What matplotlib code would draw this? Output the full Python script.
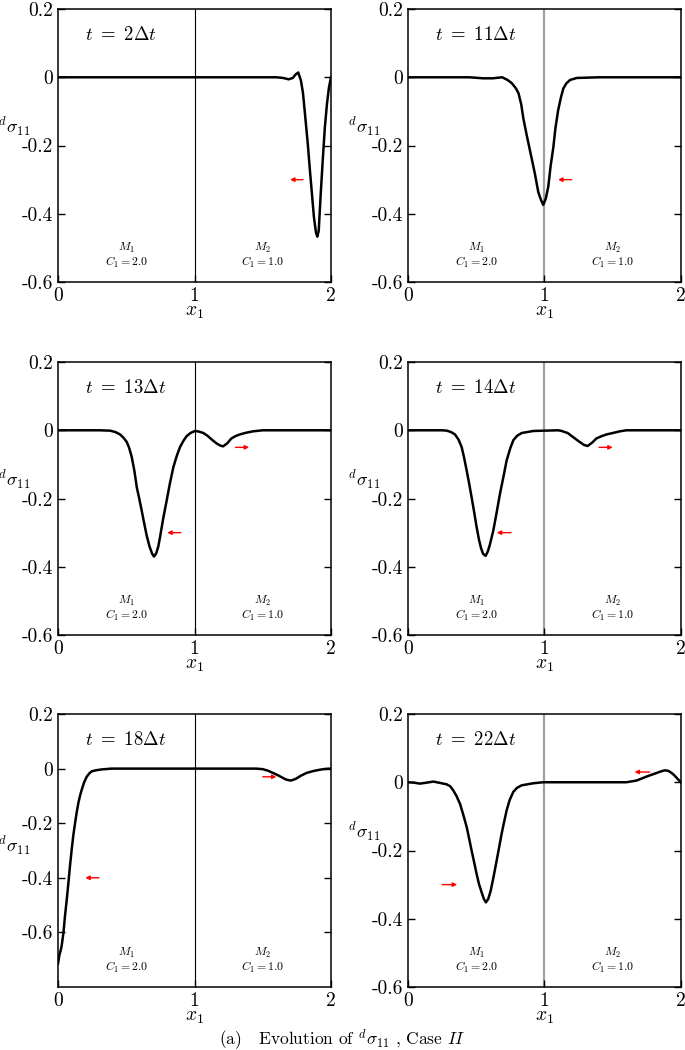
import matplotlib
matplotlib.use("Agg")
import matplotlib.pyplot as plt

plt.rcParams['mathtext.fontset'] = 'cm'
plt.rcParams['font.family'] = 'serif'
plt.rcParams['font.serif'] = ['cmr10', 'DejaVu Serif']
plt.rcParams['axes.unicode_minus'] = False

# ---- data ----
x_t2 = [0, 1.5, 1.6, 1.65, 1.69, 1.72, 1.74, 1.76, 1.78, 1.795, 1.81, 1.83, 1.845, 1.86, 1.875,
        1.89, 1.90, 1.91, 1.925, 1.94, 1.955, 1.97, 1.985, 2.0]
y_t2 = [0, 0, 0, -0.002, -0.006, -0.002, 0.008, 0.014, -0.01, -0.047, -0.11, -0.195, -0.27, -0.34, -0.41,
        -0.455, -0.467, -0.45, -0.34, -0.24, -0.147, -0.08, -0.03, 0.0]

x_t11 = [0, 0.3, 0.45, 0.55, 0.62, 0.69, 0.73, 0.76, 0.79, 0.81, 0.83, 0.845, 0.87, 0.894, 0.91,
         0.93, 0.955, 0.975, 0.991, 1.01, 1.028, 1.045, 1.065, 1.08, 1.10, 1.12, 1.138, 1.16, 1.187,
         1.236, 1.4, 2.0]
y_t11 = [0, 0, 0, -0.003, -0.003, 0, -0.008, -0.017, -0.032, -0.047, -0.08, -0.12, -0.17, -0.215, -0.245,
         -0.283, -0.337, -0.36, -0.374, -0.355, -0.32, -0.26, -0.205, -0.15, -0.097, -0.06, -0.033, -0.018, -0.008,
         -0.002, 0, 0]

x_t13 = [0, 0.3, 0.38, 0.42, 0.454, 0.48, 0.503, 0.52, 0.54, 0.56, 0.577, 0.595, 0.613, 0.63, 0.65,
         0.67, 0.69, 0.703, 0.72, 0.735, 0.747, 0.77, 0.796, 0.82, 0.845, 0.87, 0.894, 0.92, 0.943,
         0.97, 1.004, 1.035, 1.065, 1.095, 1.126, 1.16, 1.19, 1.21, 1.24, 1.27, 1.30, 1.333, 1.38,
         1.43, 1.5, 2.0]
y_t13 = [0, 0, -0.001, -0.005, -0.012, -0.022, -0.034, -0.05, -0.078, -0.12, -0.167, -0.20, -0.235, -0.27, -0.309,
         -0.34, -0.362, -0.37, -0.36, -0.34, -0.314, -0.26, -0.206, -0.155, -0.108, -0.075, -0.049, -0.03, -0.017,
         -0.008, -0.002, -0.004, -0.008, -0.016, -0.027, -0.038, -0.045, -0.047, -0.038, -0.024, -0.017, -0.012, -0.007,
         -0.003, 0, 0]

x_t14 = [0, 0.25, 0.283, 0.315, 0.344, 0.37, 0.393, 0.41, 0.43, 0.45, 0.466, 0.485, 0.503, 0.52, 0.535,
         0.55, 0.569, 0.585, 0.60, 0.625, 0.65, 0.674, 0.70, 0.723, 0.75, 0.772, 0.80, 0.833, 0.918, 1.1,
         1.126, 1.17, 1.21, 1.25, 1.29, 1.316, 1.35, 1.38, 1.42, 1.456, 1.50, 1.553, 1.6, 2.0]
y_t14 = [0, 0, -0.001, -0.005, -0.012, -0.027, -0.049, -0.078, -0.118, -0.16, -0.196, -0.24, -0.284, -0.32, -0.345,
         -0.362, -0.368, -0.355, -0.335, -0.294, -0.24, -0.186, -0.135, -0.088, -0.052, -0.029, -0.016, -0.008, -0.002, 0,
         -0.002, -0.008, -0.02, -0.032, -0.043, -0.046, -0.036, -0.024, -0.017, -0.012, -0.008, -0.003, 0, 0]

x_t18 = [0, 0.01, 0.02, 0.027, 0.04, 0.051, 0.064, 0.076, 0.088, 0.10, 0.112, 0.125, 0.137, 0.149, 0.162,
         0.174, 0.19, 0.21, 0.23, 0.247, 0.28, 0.32, 0.393, 1.45, 1.50, 1.54, 1.575, 1.61, 1.64, 1.67,
         1.705, 1.74, 1.78, 1.82, 1.87, 1.92, 1.96, 2.0]
y_t18 = [-0.714, -0.683, -0.665, -0.648, -0.6, -0.54, -0.48, -0.419, -0.355, -0.297, -0.245, -0.199, -0.16, -0.126, -0.098,
         -0.077, -0.052, -0.03, -0.017, -0.01, -0.006, -0.003, 0, 0, -0.002, -0.008, -0.016, -0.024, -0.032, -0.04,
         -0.044, -0.038, -0.026, -0.016, -0.009, -0.004, -0.001, 0]

x_t22 = [0, 0.04, 0.088, 0.14, 0.186, 0.235, 0.283, 0.31, 0.332, 0.355, 0.381, 0.405, 0.43, 0.448, 0.466,
         0.485, 0.503, 0.52, 0.54, 0.556, 0.571, 0.588, 0.606, 0.628, 0.65, 0.668, 0.686, 0.705, 0.723,
         0.745, 0.772, 0.80, 0.833, 0.918, 0.99, 1.6, 1.675, 1.75, 1.82, 1.855, 1.883, 1.91, 1.932, 1.95,
         1.968, 1.985, 2.0]
y_t22 = [0, -0.001, -0.004, -0.001, 0.002, -0.002, -0.006, -0.012, -0.024, -0.04, -0.063, -0.095, -0.131, -0.165, -0.2,
         -0.235, -0.269, -0.298, -0.323, -0.342, -0.352, -0.342, -0.318, -0.275, -0.229, -0.19, -0.151, -0.115, -0.082,
         -0.052, -0.028, -0.016, -0.009, -0.003, 0, 0, 0.005, 0.017, 0.027, 0.032, 0.035, 0.033, 0.027, 0.021,
         0.013, 0.006, 0]

time_labels = [r'$t\ =\ 2\mathit{\Delta} t$', r'$t\ =\ 11\mathit{\Delta} t$', r'$t\ =\ 13\mathit{\Delta} t$',
               r'$t\ =\ 14\mathit{\Delta} t$', r'$t\ =\ 18\mathit{\Delta} t$', r'$t\ =\ 22\mathit{\Delta} t$']
curves_x = [x_t2, x_t11, x_t13, x_t14, x_t18, x_t22]
curves_y = [y_t2, y_t11, y_t13, y_t14, y_t18, y_t22]

# red arrows: (x_tail, x_head, y)
arrows = [
    [(1.795, 1.70, -0.30)],
    [(1.20, 1.10, -0.30)],
    [(0.90, 0.80, -0.30), (1.30, 1.40, -0.05)],
    [(0.755, 0.65, -0.30), (1.40, 1.50, -0.05)],
    [(0.30, 0.20, -0.40), (1.50, 1.60, -0.03)],
    [(0.25, 0.36, -0.30), (1.77, 1.66, 0.03)],
]
y_bottoms = [-0.6, -0.6, -0.6, -0.6, -0.8, -0.6]
yticks = [0.2, 0, -0.2, -0.4, -0.6]
ytick_labels = ['0.2', '0', '-0.2', '-0.4', '-0.6']
xticks = [0, 1, 2]
xtick_labels = ['0', '1', '2']
ylabel_pos = [0.57, 0.57, 0.57, 0.57, 0.52, 0.57]

fig = plt.figure(figsize=(6.85, 10.5), dpi=100)
lefts = [0.0847, 0.5956]
bottoms = [0.7314, 0.3952, 0.06]
w, h = 0.3985, 0.26

for i in range(6):
    row, col = i // 2, i % 2
    ax = fig.add_axes([lefts[col], bottoms[row], w, h])
    if col == 0:
        ax.axvline(1, color='black', lw=0.8, zorder=1)
    else:
        ax.axvline(1, color='#a0a0a0', lw=1.6, zorder=1)
    ax.plot(curves_x[i], curves_y[i], color='black', lw=1.8, zorder=3)
    for (xt, xh, ya) in arrows[i]:
        ax.annotate('', xy=(xh, ya), xytext=(xt, ya),
                    arrowprops=dict(arrowstyle='-|>', color='red', lw=1.0,
                                    mutation_scale=6, shrinkA=0, shrinkB=0), zorder=4)
    ax.set_xlim(0, 2)
    ax.set_ylim(y_bottoms[i], 0.2)
    ax.set_xticks(xticks)
    ax.set_xticklabels(xtick_labels, fontsize=14)
    ax.set_yticks(yticks)
    ax.set_yticklabels(ytick_labels, fontsize=14)
    ax.tick_params(direction='in', length=5, width=1, right=True, top=False, pad=3.5)
    for s in ax.spines.values():
        s.set_linewidth(1.1)
    ax.text(0.10, 0.905, time_labels[i], transform=ax.transAxes, ha='left', va='center', fontsize=13.5)
    ax.text(0.25, 0.125, r'$M_1$', transform=ax.transAxes, ha='center', va='center', fontsize=8.5)
    ax.text(0.25, 0.073, r'$C_1 = 2.0$', transform=ax.transAxes, ha='center', va='center', fontsize=8.5)
    ax.text(0.75, 0.125, r'$M_2$', transform=ax.transAxes, ha='center', va='center', fontsize=8.5)
    ax.text(0.75, 0.073, r'$C_1 = 1.0$', transform=ax.transAxes, ha='center', va='center', fontsize=8.5)
    ax.set_ylabel(r'$^d\sigma_{11}$', rotation=0, ha='right', va='center', fontsize=13)
    ax.yaxis.set_label_coords(-0.1, ylabel_pos[i])
    ax.set_xlabel(r'$x_1$', fontsize=14, labelpad=-1)

fig.text(0.5, 0.01, r'(a)   Evolution of $^d\sigma_{11}$ , Case $II$', ha='center', va='center', fontsize=12.5)

fig.savefig('out.png', dpi=100)
